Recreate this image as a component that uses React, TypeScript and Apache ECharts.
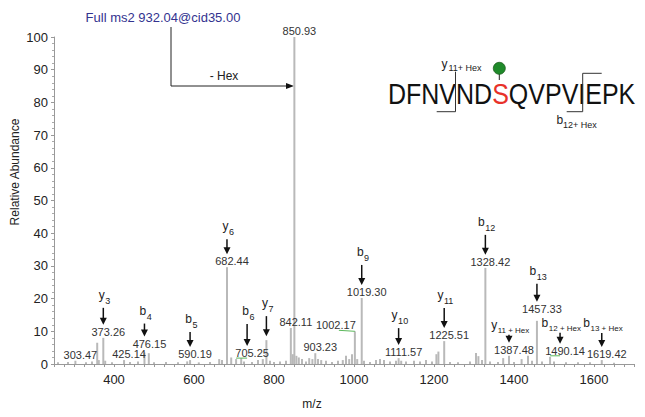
import React, { useEffect, useRef } from 'react';
import * as echarts from 'echarts';

const FONT = '"Liberation Sans", Arial, Helvetica, sans-serif';

// ---- data ----
const peakMz = [260, 285, 303.47, 330, 345, 358, 362, 373.26, 378, 395, 425.14, 440, 460, 476.15, 487, 500, 530, 560, 583, 590.19, 612, 640, 663, 670, 682.44, 693, 705.25, 718, 725, 745, 760, 772, 781, 790, 800, 815, 830, 842.11, 847, 850.93, 856, 862, 870, 880, 888, 896, 903.23, 910, 918, 930, 945, 960, 972, 980, 988, 995, 1002.17, 1008, 1019.3, 1025, 1040, 1055, 1065, 1075, 1090, 1105, 1111.57, 1118, 1130, 1150, 1165, 1180, 1195, 1206, 1211, 1225.51, 1240, 1260, 1290, 1305, 1311, 1320, 1328.42, 1340, 1360, 1373, 1387.48, 1400, 1419, 1435, 1445, 1457.33, 1470, 1490.14, 1500, 1530, 1560, 1590, 1619.42, 1650];
const peakAbundance = [0.5, 0.6, 1.0, 0.5, 0.8, 6.5, 1.2, 8.0, 1.0, 0.5, 1.2, 0.6, 0.8, 3.5, 3.3, 0.5, 0.6, 0.5, 0.8, 1.2, 0.5, 0.6, 1.5, 1.2, 29.6, 2.0, 1.5, 1.8, 0.8, 0.6, 1.2, 1.5, 7.3, 1.0, 0.6, 0.8, 1.0, 11.0, 3.0, 100, 2.5, 2.0, 1.5, 0.8, 1.8, 1.5, 3.3, 1.5, 1.2, 1.0, 0.6, 1.0, 1.2, 2.5, 1.5, 3.0, 10.0, 1.5, 20.2, 1.0, 0.6, 1.2, 1.5, 1.2, 0.8, 1.0, 1.8, 1.0, 0.8, 1.0, 0.8, 1.2, 0.8, 3.0, 3.8, 7.0, 0.6, 0.5, 0.8, 3.4, 2.4, 1.2, 29.4, 0.8, 0.6, 1.8, 2.5, 0.6, 1.5, 2.5, 1.0, 13.2, 0.8, 2.2, 0.8, 0.5, 0.5, 0.5, 1.2, 0.4];

const labeledMz = [303.47, 373.26, 425.14, 476.15, 590.19, 682.44, 705.25, 842.11, 850.93, 903.23, 1002.17, 1019.3, 1111.57, 1225.51, 1328.42, 1387.48, 1457.33, 1490.14, 1619.42];

const ionMz = [373.26, 476.15, 590.19, 682.44, 705.25, 781, 1019.3, 1111.57, 1225.51, 1328.42, 1387.48, 1457.33, 1490.14, 1619.42];
const ionType = ['y', 'b', 'b', 'y', 'b', 'y', 'b', 'y', 'y', 'b', 'y', 'b', 'b', 'b'];
const ionSub = ['3', '4', '5', '6', '6', '7', '9', '10', '11', '12', '11 + Hex', '13', '12 + Hex', '13 + Hex'];

const xTickLabels = [400, 600, 800, 1000, 1200, 1400, 1600];
const yTickLabels = [0, 10, 20, 30, 40, 50, 60, 70, 80, 90, 100];

const peptideLeft = 'DFNVND';
const peptideSite = 'S';
const peptideRight = 'QVPVIEPK';
const titleText = 'Full ms2 932.04@cid35.00';

// ---- layout (pixel offsets, not data) ----
const labelShift: Record<string, number> = { '705.25': 11, '1002.17': -24, '1490.14': 10 };
const labelLift: Record<string, number> = { '1457.33': 6, '476.15': 3 };
const arrowLen: Record<string, number> = {
  '373.26': 17, '476.15': 13, '590.19': 15, '682.44': 15, '705.25': 22, '781': 20,
  '1019.3': 20, '1111.57': 17, '1225.51': 20, '1328.42': 20, '1387.48': 8,
  '1457.33': 18, '1490.14': 11, '1619.42': 14,
};

let measureCtx: CanvasRenderingContext2D | null = null;
function textWidth(text: string, size: number): number {
  if (!measureCtx) measureCtx = document.createElement('canvas').getContext('2d');
  if (!measureCtx) return text.length * size * 0.55;
  measureCtx.font = `${size}px ${FONT}`;
  return measureCtx.measureText(text).width;
}

function abundanceOf(mz: number): number {
  const i = peakMz.indexOf(mz);
  return i >= 0 ? peakAbundance[i] : 0;
}

function txt(x: number, y: number, text: string, size: number, fill: string, align = 'center', extra: any = {}) {
  return {
    type: 'text',
    x,
    y,
    ...extra,
    style: {
      text,
      fontSize: size,
      fontFamily: FONT,
      fill,
      align,
      verticalAlign: 'middle',
      textAlign: align,
      textVerticalAlign: 'middle',
    },
  };
}

export default function App() {
  const ref = useRef<HTMLDivElement>(null);

  useEffect(() => {
    if (!ref.current) return;
    const chart = echarts.init(ref.current, undefined, { renderer: 'svg' });

    const annotMz = Array.from(new Set([...labeledMz, ...ionMz])).sort((a, b) => a - b);

    const pepW1 = textWidth(peptideLeft, 25);
    const pepW2 = textWidth(peptideSite, 25);
    const pepX = 388;
    const pepY = 94;
    const pepScale = { scaleY: 1.2 };

    const option: any = {
      animation: false,
      grid: { left: 54, right: 11, top: 37, bottom: 53 },
      xAxis: {
        type: 'value',
        min: 250,
        max: 1700,
        interval: 50,
        axisLine: { lineStyle: { color: '#999' } },
        axisTick: { length: 3, lineStyle: { color: '#999' } },
        minorTick: { show: true, splitNumber: 2, length: 3, lineStyle: { color: '#999' } },
        splitLine: { show: false },
        axisLabel: {
          color: '#222',
          fontSize: 13,
          fontFamily: FONT,
          margin: 9,
          formatter: (v: number) => (xTickLabels.includes(v) ? String(v) : ''),
        },
      },
      yAxis: {
        type: 'value',
        min: 0,
        max: 100,
        interval: 10,
        axisLine: { show: true, lineStyle: { color: '#999' } },
        axisTick: { show: true, length: 3, lineStyle: { color: '#999' } },
        minorTick: { show: true, splitNumber: 5, length: 2, lineStyle: { color: '#aaa' } },
        splitLine: { show: false },
        axisLabel: {
          color: '#222',
          fontSize: 13,
          fontFamily: FONT,
          margin: 6,
          formatter: (v: number) => (yTickLabels.includes(v) ? String(v) : ''),
        },
      },
      series: [
        {
          type: 'custom',
          data: peakMz.map((m, i) => [m, peakAbundance[i]]),
          renderItem: (_p: any, api: any) => {
            const x = api.value(0);
            const v = api.value(1);
            const top = api.coord([x, v]);
            const base = api.coord([x, 0]);
            return {
              type: 'rect',
              shape: { x: top[0] - 1, y: top[1], width: 2, height: base[1] - top[1] },
              style: { fill: '#b9b9b9' },
            };
          },
          z: 1,
        },
        {
          type: 'custom',
          data: annotMz.map((m) => [m, abundanceOf(m)]),
          renderItem: (_p: any, api: any) => {
            const mz = api.value(0);
            const v = api.value(1);
            const [px, top] = api.coord([mz, v]);
            const key = String(mz);
            const children: any[] = [];
            const isLabeled = labeledMz.includes(mz);
            const shift = labelShift[key] || 0;
            const ax = px + shift;
            const labelY = top - 6 - (labelLift[key] || 0);
            if (isLabeled) {
              children.push(txt(ax + 5, labelY, mz.toFixed(2), 11, '#333'));
              if (shift !== 0) {
                const y = labelY + 5;
                children.push({
                  type: 'line',
                  shape: { x1: px, y1: shift < 0 ? top : y, x2: ax + (shift < 0 ? 8 : 0), y2: y },
                  style: { stroke: '#5cb85c', lineWidth: 1 },
                });
              }
            }
            const ii = ionMz.indexOf(mz);
            if (ii >= 0) {
              const tipY = isLabeled ? labelY - 7 : top - 4;
              const len = arrowLen[key] || 18;
              const topY = tipY - len;
              children.push({
                type: 'line',
                shape: { x1: ax, y1: topY, x2: ax, y2: tipY - 5 },
                style: { stroke: '#111', lineWidth: 1.5 },
              });
              children.push({
                type: 'polygon',
                shape: { points: [[ax - 3.5, tipY - 7], [ax + 3.5, tipY - 7], [ax, tipY]] },
                style: { fill: '#111' },
              });
              const letter = ionType[ii];
              const sub = ionSub[ii];
              const hex = sub.includes('Hex');
              const subSize = hex ? 8 : 9;
              const lw = textWidth(letter, 12);
              const sw = textWidth(sub, subSize);
              const start = ax + 1 - (lw + sw) / 2;
              children.push(txt(start, topY - (hex ? 10 : 13), letter, 12, '#222', 'left'));
              children.push(txt(start + lw + 0.5, topY - (hex ? 4.5 : 7), sub, subSize, '#222', 'left'));
            }
            return { type: 'group', children };
          },
          z: 3,
        },
      ],
      graphic: [
        txt(163, 17, titleText, 13, '#33338f'),
        // - Hex neutral loss arrow
        { type: 'line', shape: { x1: 171, y1: 27, x2: 171, y2: 86 }, style: { stroke: '#222', lineWidth: 1 } },
        { type: 'line', shape: { x1: 171, y1: 86, x2: 287, y2: 86 }, style: { stroke: '#222', lineWidth: 1 } },
        { type: 'polygon', shape: { points: [[286, 83], [294, 86], [286, 89]] }, style: { fill: '#111' } },
        txt(224, 76, '- Hex', 12, '#222'),
        // peptide sequence
        txt(pepX, pepY, peptideLeft, 25, '#111', 'left', pepScale),
        txt(pepX + pepW1, pepY, peptideSite, 25, '#e8322a', 'left', pepScale),
        txt(pepX + pepW1 + pepW2, pepY, peptideRight, 25, '#111', 'left', pepScale),
        // glycan marker
        { type: 'line', shape: { x1: 499.3, y1: 74, x2: 499.3, y2: 80 }, style: { stroke: '#222', lineWidth: 1 } },
        { type: 'circle', shape: { cx: 499.3, cy: 68.3, r: 6 }, style: { fill: '#1f8a2a', stroke: '#1a5c1a', lineWidth: 0.8 } },
        // y11 + Hex bracket
        { type: 'polyline', shape: { points: [[436.7, 111.7], [455.5, 111.7], [455.5, 71.7]] }, style: { stroke: '#333', lineWidth: 1, fill: 'none' } },
        txt(441.5, 64, 'y', 12, '#222', 'left'),
        txt(448.5, 68, '11+ Hex', 9, '#222', 'left'),
        // b12 + Hex bracket
        { type: 'polyline', shape: { points: [[566.7, 111.7], [582.7, 111.7], [582.7, 73.3], [601.7, 73.3]] }, style: { stroke: '#333', lineWidth: 1, fill: 'none' } },
        txt(556.5, 120, 'b', 12, '#222', 'left'),
        txt(563, 125, '12+ Hex', 9, '#222', 'left'),
        // axis names
        txt(15, 172, 'Relative Abundance', 12, '#222', 'center', { rotation: Math.PI / 2 }),
        txt(312, 404, 'm/z', 12, '#222'),
      ],
    };

    chart.setOption(option);
    return () => chart.dispose();
  }, []);

  return <div ref={ref} style={{ width: 645, height: 417, position: 'absolute', left: 0, top: 0, background: '#fff' }} />;
}
